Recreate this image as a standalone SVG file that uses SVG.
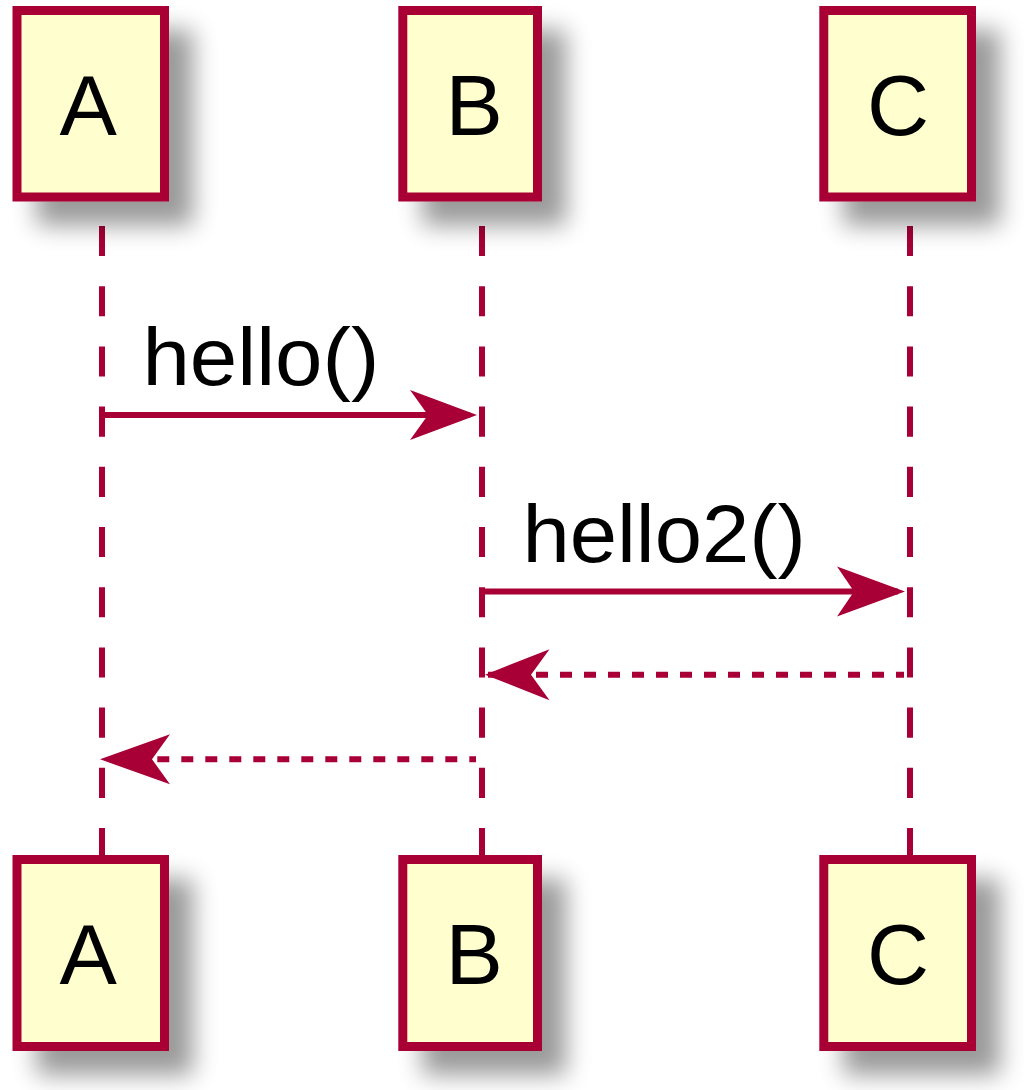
<svg xmlns="http://www.w3.org/2000/svg" width="1024" height="1090" viewBox="0 0 1024 1090">
<style>
.box{fill:#FEFECE;stroke:#A80036;stroke-width:9;filter:url(#sh)}
.pt{font-family:"Liberation Sans",Arial,sans-serif;font-size:86px;fill:#000;text-anchor:middle}
.life{stroke:#A80036;stroke-width:6;stroke-dasharray:30.1 30.1;fill:none}
.msg{stroke:#A80036;stroke-width:6;fill:none}
.ret{stroke:#A80036;stroke-width:6;stroke-dasharray:12 12;fill:none}
.head{fill:#A80036;stroke:none}
.ml{font-family:"Liberation Sans",Arial,sans-serif;font-size:82px;fill:#000}
</style>
<defs>
<filter id="sh" x="-50%" y="-50%" width="220%" height="220%">
<feGaussianBlur in="SourceAlpha" stdDeviation="12" result="b"/>
<feOffset dx="24" dy="24" in="b" result="o"/>
<feComponentTransfer in="o" result="c"><feFuncA type="linear" slope="0.4"/></feComponentTransfer>
<feMerge><feMergeNode in="c"/><feMergeNode in="SourceGraphic"/></feMerge>
</filter>
</defs>
<rect width="1024" height="1090" fill="#FFFFFF"/>
<g id="lifelines">
<line class="life" x1="102" y1="226" x2="102" y2="858"/>
<line class="life" x1="482" y1="226" x2="482" y2="858"/>
<line class="life" x1="910" y1="226" x2="910" y2="858"/>
</g>
<g id="A-top"><rect class="box" x="17" y="10.5" width="147.5" height="186.5"/><text class="pt" x="88.3" y="135">A</text></g>
<g id="B-top"><rect class="box" x="402.8" y="10.5" width="134.7" height="186.5"/><text class="pt" x="474.2" y="135">B</text></g>
<g id="C-top"><rect class="box" x="823.8" y="10.5" width="147.7" height="186.5"/><text class="pt" x="898" y="135">C</text></g>
<g id="A-bottom"><rect class="box" x="17" y="859.5" width="147.5" height="187"/><text class="pt" x="88.3" y="984">A</text></g>
<g id="B-bottom"><rect class="box" x="402.8" y="859.5" width="134.7" height="187"/><text class="pt" x="474.2" y="984">B</text></g>
<g id="C-bottom"><rect class="box" x="823.8" y="859.5" width="147.7" height="187"/><text class="pt" x="898" y="984">C</text></g>
<g id="connectors">
<g id="m1">
<line class="msg" x1="102" y1="415" x2="470" y2="415"/>
<polygon class="head" points="477,415 410,390 428,415 410,440"/>
<text class="ml" x="142.4" y="385" textLength="236.9" lengthAdjust="spacingAndGlyphs">hello()</text>
</g>
<g id="m2">
<line class="msg" x1="482" y1="591.5" x2="898" y2="591.5"/>
<polygon class="head" points="905,591.5 837,566.5 854,591.5 837,616.5"/>
<text class="ml" x="522.4" y="561.7" textLength="283.5" lengthAdjust="spacingAndGlyphs">hello2()</text>
</g>
<g id="r1">
<line class="ret" x1="488" y1="674.7" x2="904" y2="674.7"/>
<polygon class="head" points="485,674.7 549.5,649.2 531,674.7 549.5,700.2"/>
</g>
<g id="r2">
<line class="ret" x1="109.3" y1="759.3" x2="476" y2="759.3"/>
<polygon class="head" points="100,759.3 170,734.3 152,759.3 170,784.3"/>
</g>
</g>
</svg>
